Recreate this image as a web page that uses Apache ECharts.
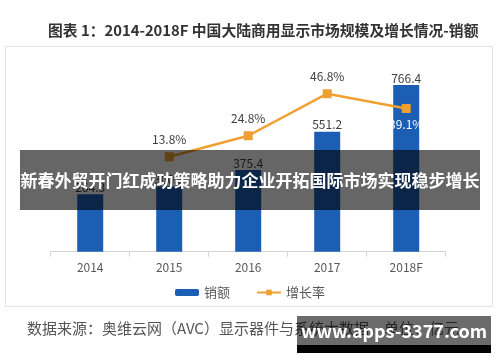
<!DOCTYPE html>
<html><head><meta charset="utf-8">
<script src="https://cdn.jsdelivr.net/npm/echarts@6/dist/echarts.min.js"></script>
<style>html,body{margin:0;padding:0;background:#fff}#c{width:500px;height:362px}</style>
</head><body><div id="c"></div>
<script>
const years = ['2014', '2015', '2016', '2017', '2018F'];
const sales = [264.3, 300.8, 375.4, 551.2, 766.4];
const growth = [null, 13.8, 24.8, 46.8, 39.1];
const seriesNames = ['销额', '增长率'];
const titleText = '图表 1：2014-2018F 中国大陆商用显示市场规模及增长情况-销额';
const sourceText = '数据来源：奥维云网（AVC）显示器件与系统大数据，单位：亿元';
const bannerText = '新春外贸开门红成功策略助力企业开拓国际市场实现稳步增长';
const siteText = 'www.apps-3377.com';

const FONT = '"Noto Sans CJK SC", "Noto Sans", sans-serif';
const chart = echarts.init(document.getElementById('c'), null, {renderer: 'canvas'});

const growthData = growth.map((v, i) => {
  if (v === null) return v;
  if (i === growth.length - 1) {
    return {value: v, label: {position: 'bottom', color: '#ffffff', distance: 6}};
  }
  return v;
});

chart.setOption({
  animation: false,
  textStyle: {fontFamily: FONT},
  title: {
    text: titleText, left: 43, top: 18,
    textStyle: {fontFamily: FONT, fontSize: 14.8, fontWeight: 'bold', color: '#333333'}
  },
  grid: {left: 50.7, right: 54.3, top: 55.9, bottom: 110.3, containLabel: false},
  legend: {
    data: seriesNames, top: 281, left: 'center', itemGap: 26,
    textStyle: {fontFamily: FONT, fontSize: 13, color: '#595959'},
    itemWidth: 24, itemHeight: 7
  },
  xAxis: {
    type: 'category', data: years,
    axisLine: {lineStyle: {color: '#d4d4d4', width: 1}},
    axisTick: {show: true, length: 5, lineStyle: {color: '#d4d4d4'}},
    axisLabel: {color: '#595959', fontSize: 12, margin: 10, fontFamily: FONT}
  },
  yAxis: [
    {type: 'value', min: 0, max: 900, show: false, splitLine: {show: false}},
    {type: 'value', min: -35.9, max: 66.6, show: false, splitLine: {show: false}}
  ],
  series: [
    {
      name: seriesNames[0], type: 'bar', data: sales, yAxisIndex: 0,
      barWidth: 26,
      itemStyle: {color: '#1b5eb3'},
      label: {show: true, position: 'top', distance: 1, color: '#404040', fontSize: 12, fontFamily: FONT}
    },
    {
      name: seriesNames[1], type: 'line', data: growthData, yAxisIndex: 1,
      symbol: 'rect', symbolSize: 9,
      lineStyle: {color: '#f0a032', width: 2.5},
      itemStyle: {color: '#f0a032'},
      label: {show: true, position: 'top', distance: 7, color: '#404040', fontSize: 12, fontFamily: FONT,
        formatter: p => p.value + '%'}
    }
  ],
  graphic: [
    {type: 'rect', silent: true, z: -10, shape: {x: 5.5, y: 46.5, width: 487, height: 260},
      style: {fill: 'none', stroke: '#e3e3e3', lineWidth: 1}},
    {type: 'text', silent: true, x: 27, y: 328, z: 10,
      style: {text: sourceText, fill: '#555555', font: '15px ' + FONT, textVerticalAlign: 'middle'}},
    {type: 'rect', silent: true, z: 100, shape: {x: 20, y: 150, width: 460, height: 60},
      style: {fill: 'rgba(0,0,0,0.6)'}},
    {type: 'text', silent: true, z: 101, x: 250, y: 181,
      style: {text: bannerText, fill: '#ffffff', font: 'bold 17px ' + FONT, textAlign: 'center', textVerticalAlign: 'middle'}},
    {type: 'rect', silent: true, z: 100, shape: {x: 297, y: 316, width: 194, height: 30},
      style: {fill: 'rgba(0,0,0,0.58)'}},
    {type: 'rect', silent: true, z: 100, shape: {x: 297, y: 345, width: 194, height: 8},
      style: {fill: '#000000'}},
    {type: 'text', silent: true, z: 101, x: 394, y: 331,
      style: {text: siteText, fill: '#ffffff', font: 'bold 18px ' + FONT, textAlign: 'center', textVerticalAlign: 'middle'}}
  ]
});
</script></body></html>
